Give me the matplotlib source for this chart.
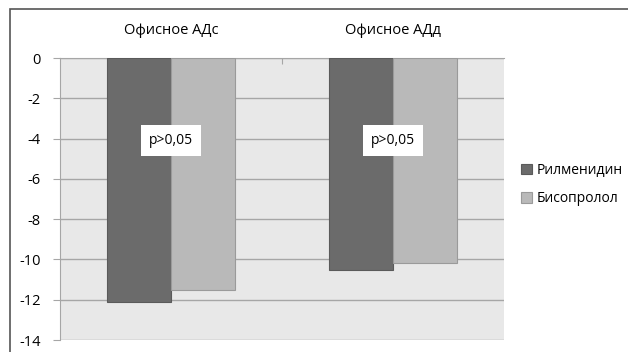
import matplotlib
matplotlib.use("Agg")
import matplotlib.pyplot as plt
from matplotlib.patches import Rectangle

plt.rcParams['font.family'] = ['Open Sans', 'DejaVu Sans']

categories = ["Офисное АДс", "Офисное АДд"]
series_names = ["Рилменидин", "Бисопролол"]
rilmenidine = [-12.1, -10.5]
bisoprolol = [-11.5, -10.2]
p_labels = ["p>0,05", "p>0,05"]
y_ticks = [0, -2, -4, -6, -8, -10, -12, -14]

W, H = 628, 352
fig = plt.figure(figsize=(W / 100, H / 100), dpi=100)

# outer chart frame
fig.patches.append(Rectangle((10 / W, -0.1), 1.2, (H - 9) / H + 0.1,
                             transform=fig.transFigure, fill=False,
                             edgecolor="#555555", linewidth=1.2))

ax = fig.add_axes([60 / W, (H - 340) / H, (504 - 60) / W, (340 - 58) / H])
ax.set_facecolor("#e8e8e8")

x = list(range(len(categories)))
bw = 0.288
b1 = ax.bar([i - bw / 2 for i in x], rilmenidine, width=bw, color="#6b6b6b",
            edgecolor="#5a5a5a", linewidth=0.8, zorder=3, label=series_names[0])
b2 = ax.bar([i + bw / 2 for i in x], bisoprolol, width=bw, color="#b9b9b9",
            edgecolor="#9a9a9a", linewidth=0.8, zorder=3, label=series_names[1])

for i, t in enumerate(p_labels):
    ax.text(i, -4.1, t, ha="center", va="center", fontsize=10, zorder=5,
            bbox=dict(boxstyle="square,pad=0.55", facecolor="white", edgecolor="none"))

ax.set_xlim(-0.5, len(categories) - 0.5)
ax.set_ylim(-14, 0)
ax.set_yticks(y_ticks)
ax.set_yticklabels([str(v) for v in y_ticks], fontsize=10.5)
ax.yaxis.grid(True, color="#a6a6a6", linewidth=1, zorder=1)
ax.set_axisbelow(True)

ax.xaxis.tick_top()
ax.set_xticks([0.5])
ax.set_xticklabels([])
ax.tick_params(axis="x", direction="in", length=4, color="#a6a6a6")
ax.tick_params(axis="y", length=5, color="#a6a6a6", pad=9)
for i, c in enumerate(categories):
    ax.text(i, 1.35, c, ha="center", va="center", fontsize=10.5)

for s in ["right", "bottom"]:
    ax.spines[s].set_visible(False)
for s in ["left", "top"]:
    ax.spines[s].set_color("#a6a6a6")

fig.legend(handles=[b1, b2], labels=series_names, loc="upper left",
           bbox_to_anchor=(510 / W, (H - 152) / H), frameon=False,
           fontsize=10, handlelength=0.75, handleheight=0.75,
           handletextpad=0.35, labelspacing=0.95, borderpad=0.3)

fig.savefig("out.png", dpi=100)
